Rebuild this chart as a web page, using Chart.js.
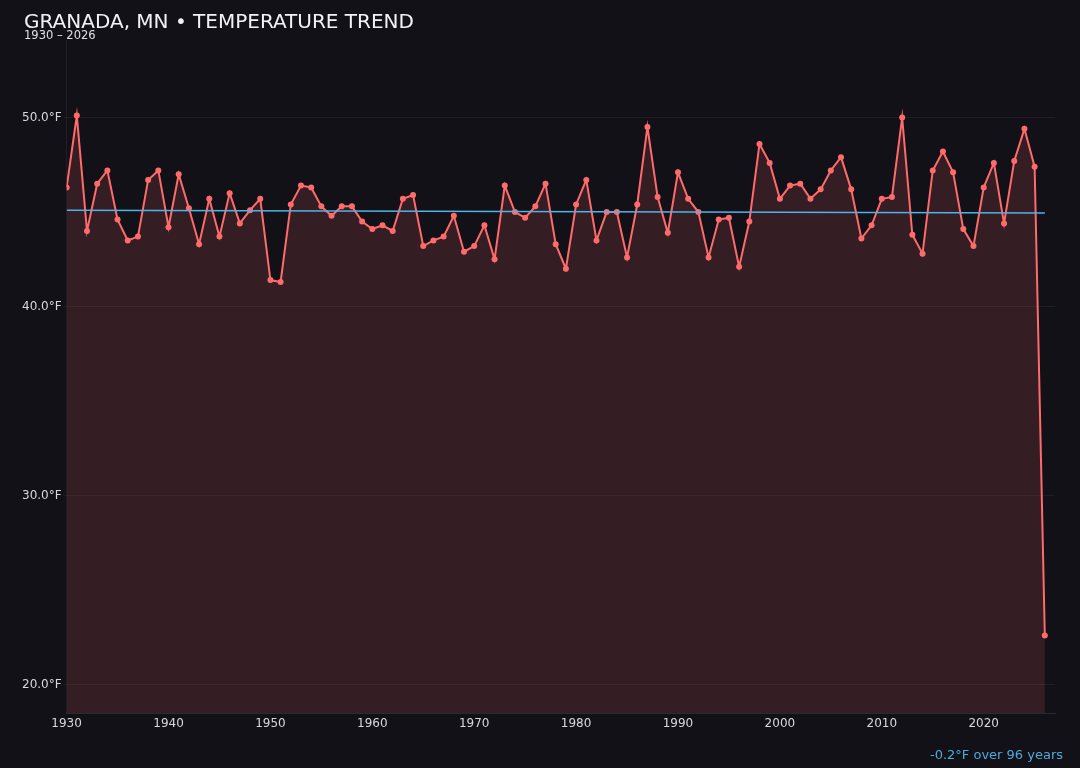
<!DOCTYPE html>
<html>
<head>
<meta charset="utf-8">
<script src="https://cdn.jsdelivr.net/npm/chart.js@4.4.1/dist/chart.umd.min.js"></script>
<style>
  html, body { margin: 0; padding: 0; background: #121117; }
  #wrap { width: 1080px; height: 768px; }
</style>
</head>
<body>
<div id="wrap"><canvas id="grafica"></canvas></div>
<script>
// Datos
const years = [
  1930, 1931, 1932, 1933, 1934, 1935, 1936, 1937, 1938, 1939,
  1940, 1941, 1942, 1943, 1944, 1945, 1946, 1947, 1948, 1949,
  1950, 1951, 1952, 1953, 1954, 1955, 1956, 1957, 1958, 1959,
  1960, 1961, 1962, 1963, 1964, 1965, 1966, 1967, 1968, 1969,
  1970, 1971, 1972, 1973, 1974, 1975, 1976, 1977, 1978, 1979,
  1980, 1981, 1982, 1983, 1984, 1985, 1986, 1987, 1988, 1989,
  1990, 1991, 1992, 1993, 1994, 1995, 1996, 1997, 1998, 1999,
  2000, 2001, 2002, 2003, 2004, 2005, 2006, 2007, 2008, 2009,
  2010, 2011, 2012, 2013, 2014, 2015, 2016, 2017, 2018, 2019,
  2020, 2021, 2022, 2023, 2024, 2025, 2026
];
const temps = [
  46.3, 50.1, 44.0, 46.5, 47.2, 44.6, 43.5, 43.7, 46.7, 47.2,
  44.2, 47.0, 45.2, 43.3, 45.7, 43.7, 46.0, 44.4, 45.1, 45.7,
  41.4, 41.3, 45.4, 46.4, 46.3, 45.3, 44.8, 45.3, 45.3, 44.5,
  44.1, 44.3, 44.0, 45.7, 45.9, 43.2, 43.5, 43.7, 44.8, 42.9,
  43.2, 44.3, 42.5, 46.4, 45.0, 44.7, 45.3, 46.5, 43.3, 42.0,
  45.4, 46.7, 43.5, 45.0, 45.0, 42.6, 45.4, 49.5, 45.8, 43.9,
  47.1, 45.7, 45.0, 42.6, 44.6, 44.7, 42.1, 44.5, 48.6, 47.6,
  45.7, 46.4, 46.5, 45.7, 46.2, 47.2, 47.9, 46.2, 43.6, 44.3,
  45.7, 45.8, 50.0, 43.8, 42.8, 47.2, 48.2, 47.1, 44.1, 43.2,
  46.3, 47.6, 44.4, 47.7, 49.4, 47.4, 22.6
];
// Linea de tendencia (extremos)
const trendYears = [1930, 2026];
const trendTemps = [45.1, 44.95];

const yTicks = [20, 30, 40, 50];
const xTicks = [1930, 1940, 1950, 1960, 1970, 1980, 1990, 2000, 2010, 2020];

const tituloTexto = "GRANADA, MN \u2022 TEMPERATURE TREND";
const subtituloTexto = "1930 \u2013 2026";
const tendenciaTexto = "-0.2\u00b0F over 96 years";

Chart.defaults.font.family = "'DejaVu Sans', sans-serif";
Chart.defaults.color = "#d8d8dc";

// Fondo, titulo, subtitulo y texto de tendencia
const fondoPlugin = {
  id: "fondo",
  beforeDraw(chart) {
    const ctx = chart.ctx;
    ctx.save();
    ctx.fillStyle = "#121117";
    ctx.fillRect(0, 0, chart.width, chart.height);
    ctx.restore();
  },
  afterDraw(chart) {
    const ctx = chart.ctx;
    ctx.save();
    ctx.textBaseline = "alphabetic";
    ctx.textAlign = "left";
    ctx.font = "20px 'DejaVu Sans', sans-serif";
    ctx.fillStyle = "#f2f2f4";
    ctx.fillText(tituloTexto, 24, 27.5);
    ctx.font = "11.5px 'DejaVu Sans', sans-serif";
    ctx.fillStyle = "#e0e0e4";
    ctx.fillText(subtituloTexto, 24, 38.5);

    ctx.font = "13px 'DejaVu Sans', sans-serif";
    ctx.fillStyle = "#4fa9dc";
    ctx.textAlign = "right";
    ctx.textBaseline = "middle";
    ctx.fillText(tendenciaTexto, 1063, 756);
    ctx.restore();
  }
};

const puntos = years.map((y, i) => ({ x: y, y: temps[i] }));
const tendencia = trendYears.map((y, i) => ({ x: y, y: trendTemps[i] }));

new Chart(document.getElementById("grafica").getContext("2d"), {
  type: "line",
  data: {
    datasets: [
      {
        label: "Trend",
        data: tendencia,
        borderColor: "#4fb3e8",
        borderWidth: 1.5,
        pointRadius: 0,
        fill: false,
        tension: 0,
      },
      {
        label: "Temperature",
        data: puntos,
        borderColor: "#ff6b6b",
        backgroundColor: "rgba(255, 107, 107, 0.15)",
        borderWidth: 2,
        pointRadius: 3,
        pointBackgroundColor: "#ff6b6b",
        pointBorderWidth: 0,
        fill: "start",
        tension: 0,
      },
    ],
  },
  options: {
    responsive: true,
    maintainAspectRatio: false,
    animation: false,
    layout: { padding: { left: 20, right: 25, top: 40, bottom: 34 } },
    plugins: {
      legend: { display: false },
      tooltip: { enabled: false },
      title: { display: false },
    },
    scales: {
      x: {
        type: "linear",
        min: 1930,
        max: 2027,
        afterBuildTicks: (axis) => {
          axis.ticks = xTicks.map((v) => ({ value: v }));
        },
        ticks: {
          color: "#d8d8dc",
          font: { size: 12 },
          padding: 3,
          maxRotation: 0,
          callback: (v) => String(v),
        },
        grid: { display: false, drawTicks: false, tickLength: 0 },
        border: { color: "rgba(255,255,255,0.1)" },
      },
      y: {
        min: 18.47,
        max: 54.1,
        afterBuildTicks: (axis) => {
          axis.ticks = yTicks.map((v) => ({ value: v }));
        },
        ticks: {
          color: "#d8d8dc",
          font: { size: 12 },
          padding: 2,
          callback: (v) => v.toFixed(1) + "\u00b0F",
        },
        grid: {
          color: "rgba(255,255,255,0.05)",
          tickLength: 3,
        },
        border: { color: "rgba(255,255,255,0.06)" },
      },
    },
  },
  plugins: [fondoPlugin],
});
</script>
</body>
</html>
